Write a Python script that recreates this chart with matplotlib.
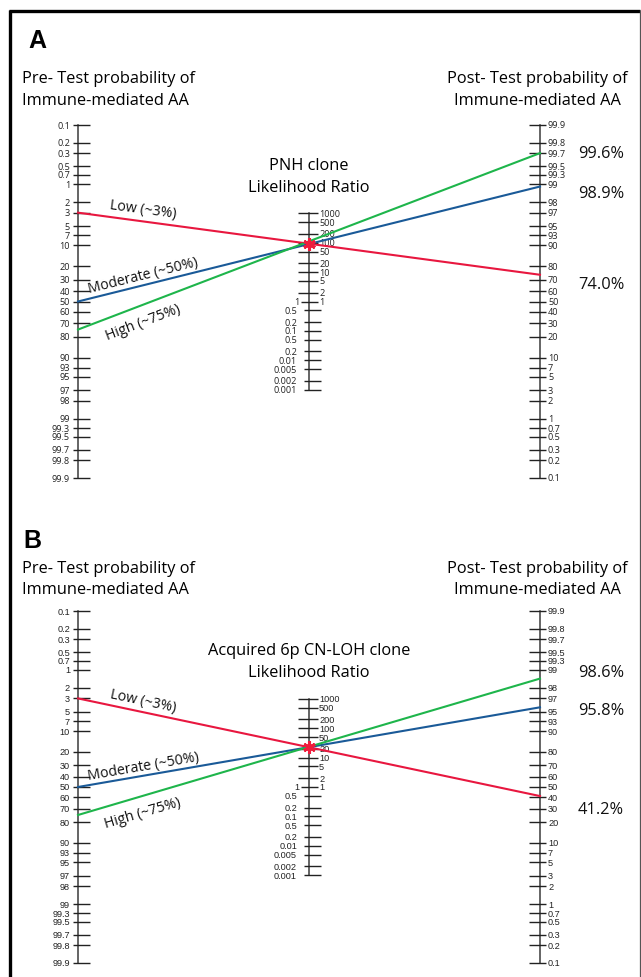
import numpy as np
import matplotlib.pyplot as plt
from matplotlib.lines import Line2D

plt.rcParams['font.family'] = ['Open Sans', 'DejaVu Sans']

# tick values of the three nomogram scales (percent / ratio)
pre_ticks = [0.1, 0.2, 0.3, 0.5, 0.7, 1, 2, 3, 5, 7, 10, 20, 30, 40, 50, 60, 70,
             80, 90, 93, 95, 97, 98, 99, 99.3, 99.5, 99.7, 99.8, 99.9]
post_ticks = pre_ticks[::-1]
lr_up = [1000, 500, 200, 100, 50, 20, 10, 5, 2]
lr_low = [0.5, 0.2, 0.1, 0.05, 0.02, 0.01, 0.005, 0.002, 0.001]
lr_low_labels = ['0.5', '0.2', '0.1', '0.5', '0.2', '0.01', '0.005', '0.002', '0.001']

groups = ['Low (~3%)', 'Moderate (~50%)', 'High (~75%)']
colors = ['#e8173f', '#1a5a98', '#1eb54b']
pre_test = [3, 50, 75]

panels = ['A', 'B']
tests = ['PNH clone', 'Acquired 6p CN-LOH clone']
post_A = [74.0, 98.9, 99.7]
post_B = [41.2, 95.8, 98.6]
post_A_labels = ['74.0%', '98.9%', '99.6%']
post_B_labels = ['41.2%', '95.8%', '98.6%']
lr_A = 92
lr_B = 22.7

W, H = 641, 978
fig = plt.figure(figsize=(W / 100, H / 100), dpi=100)
fig.patch.set_facecolor('white')


def logit(p):
    p = np.asarray(p, dtype=float) / 100
    return np.log(p / (1 - p))


L = float(logit(99.9))


def frame_line(xs, ys, **kw):
    fig.add_artist(Line2D(np.array(xs) / W, 1 - np.array(ys) / H,
                          transform=fig.transFigure, solid_capstyle='butt', **kw))


# outer frame (bottom edge is cut off in the original)
frame_line([10, 10], [11, 990], color='black', lw=2.4)
frame_line([9, 639.5], [12, 12], color='black', lw=2.4)
frame_line([639.5, 639.5], [11, 990], color='#555555', lw=0.9)

# layout of each panel: pixel rows of the 0.1 / 99.9 ticks and title baselines
layout = {
    'A': dict(top=126, bot=479, letter=(28, 48), title=(83, 105), lr_title=(170, 192)),
    'B': dict(top=612, bot=964, letter=(23, 548), title=(573, 594), lr_title=(655, 677)),
}
post_data = {'A': (post_A, post_A_labels, lr_A, [9, 6, 0]),
             'B': (post_B, post_B_labels, lr_B, [13, 3, -7])}
tick_font = {'A': 'Open Sans', 'B': 'Liberation Sans'}

x_left, x_right = 78, 540
for name, test in zip(panels, tests):
    lay = layout[name]
    post, post_labels, lr, lab_dy = post_data[name]
    hpx = lay['bot'] - lay['top']
    ax = fig.add_axes([x_left / W, 1 - lay['bot'] / H, (x_right - x_left) / W, hpx / H])
    ax.set_xlim(0, 1)
    ax.set_ylim(-L, L)
    ax.axis('off')
    px = 1 / (x_right - x_left)
    py = 2 * L / hpx
    tf = tick_font[name]
    tk = dict(fontsize=6.6, family=tf, color='#222222', va='center', clip_on=False)
    axc = '#3a3a3a'

    # left scale: pre-test probability
    ax.plot([0, 0], [-L, L], color=axc, lw=1.1, clip_on=False)
    ys = -logit(pre_ticks)
    ax.hlines(ys, -5 * px, 12 * px, color='#222222', lw=1.0, clip_on=False)
    for v, y in zip(pre_ticks, ys):
        ax.text(-8 * px, y, f'{v:g}', ha='right', **tk)

    # right scale: post-test probability
    ax.plot([1, 1], [-L, L], color=axc, lw=1.1, clip_on=False)
    ys = logit(post_ticks)
    ax.hlines(ys, 1 - 11 * px, 1 + 6 * px, color='#222222', lw=1.0, clip_on=False)
    for v, y in zip(post_ticks, ys):
        ax.text(1 + 8 * px, y, f'{v:g}', ha='left', **tk)

    # middle scale: likelihood ratio
    ym = np.log(np.array(lr_up + [1] + lr_low)) / 2
    ax.plot([0.5, 0.5], [ym.min(), ym.max()], color=axc, lw=1.1, clip_on=False)
    yu = np.log(lr_up) / 2
    ax.hlines(yu, 0.5 - 11 * px, 0.5 + 9 * px, color='#222222', lw=1.0, clip_on=False)
    for v, y in zip(lr_up, yu):
        ax.text(0.5 + 10 * px, y, f'{v:g}', ha='left', **tk)
    ax.hlines(0, 0.5 - 8 * px, 0.5 + 9 * px, color='#222222', lw=1.0, clip_on=False)
    ax.text(0.5 - 10 * px, 0, '1', ha='right', **tk)
    ax.text(0.5 + 10 * px, 0, '1', ha='left', **tk)
    yl = np.log(lr_low) / 2
    ax.hlines(yl, 0.5 - 5 * px, 0.5 + 12 * px, color='#222222', lw=1.0, clip_on=False)
    for s, y in zip(lr_low_labels, yl):
        ax.text(0.5 - 12 * px, y, s, ha='right', **tk)

    # lines pre-test -> post-test
    for g, c, p0, p1, dy, ls, ldy in zip(groups, colors, pre_test, post, [-12, -10, 17],
                                          post_labels, lab_dy):
        y0, y1 = -logit(p0), logit(p1)
        ax.plot([0, 1], [y0, y1], color=c, lw=1.5, clip_on=False, zorder=3)
        xl = (143 - x_left) * px
        yl_ = y0 + (y1 - y0) * xl
        ang = np.degrees(np.arctan2((y1 - y0) / py, 1 / px))
        ax.annotate(g, xy=(xl, yl_), xytext=(0, -dy * 0.72), textcoords='offset points',
                    rotation=ang, rotation_mode='anchor', ha='center', va='center',
                    fontsize=10.2, color='#111111', annotation_clip=False)
        ax.text(1 + 38 * px, y1 - ldy * py, ls, ha='left', va='center',
                fontsize=11.8, color='#111111', clip_on=False)

    ax.plot([0.5], [np.log(lr) / 2], marker=(6, 2, 0), ms=9, mew=2.2,
            color='#ee1c3c', zorder=5, clip_on=False)

    # titles
    lx, lb = lay['letter']
    fig.text(lx / W, 1 - lb / H, name, fontsize=18, fontweight='bold',
             family=['Liberation Sans', 'DejaVu Sans'], va='baseline', ha='left')
    t1, t2 = lay['title']
    fs = 11.8
    fig.text(22 / W, 1 - t1 / H, 'Pre- Test probability of', fontsize=fs, va='baseline')
    fig.text(22 / W, 1 - t2 / H, 'Immune-mediated AA', fontsize=fs, va='baseline')
    fig.text(537 / W, 1 - t1 / H, 'Post- Test probability of', fontsize=fs,
             va='baseline', ha='center')
    fig.text(537 / W, 1 - t2 / H, 'Immune-mediated AA', fontsize=fs,
             va='baseline', ha='center')
    r1, r2 = lay['lr_title']
    fig.text(309 / W, 1 - r1 / H, test, fontsize=fs, va='baseline', ha='center')
    fig.text(309 / W, 1 - r2 / H, 'Likelihood Ratio', fontsize=fs, va='baseline', ha='center')

fig.savefig('out.png', dpi=100, facecolor='white')
